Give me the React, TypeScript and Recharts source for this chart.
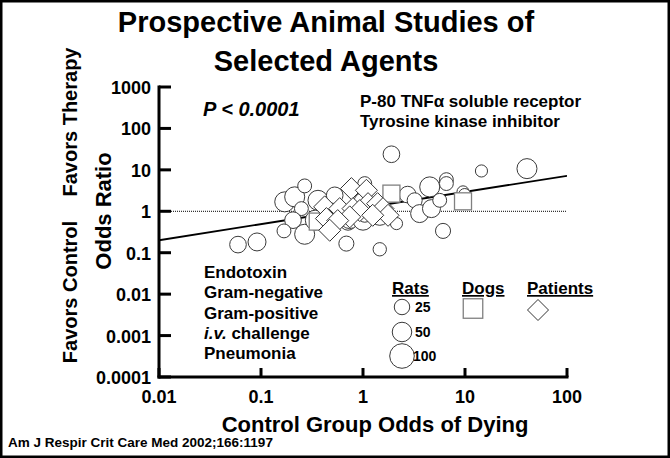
import React from 'react';
import { ScatterChart, Scatter, XAxis, YAxis } from 'recharts';

const FONT = '"Liberation Sans", Arial, Helvetica, sans-serif';

const xTicks = [0.01, 0.1, 1, 10, 100];
const xTickLabels = ['0.01', '0.1', '1', '10', '100'];
const yTicks = [0.0001, 0.001, 0.01, 0.1, 1, 10, 100, 1000];
const yTickLabels = ['0.0001', '0.001', '0.01', '0.1', '1', '10', '100', '1000'];

// Rat studies: x = control odds of dying, y = odds ratio, n = animals
const ratStudies = [
  { x: 0.0595, y: 0.157, n: 31 },
  { x: 0.0914, y: 0.182, n: 39 },
  { x: 0.171, y: 1.69, n: 54 },
  { x: 0.214, y: 2.23, n: 54 },
  { x: 0.268, y: 4.1, n: 18 },
  { x: 0.249, y: 1.16, n: 18 },
  { x: 0.206, y: 0.61, n: 31 },
  { x: 0.168, y: 0.336, n: 18 },
  { x: 0.268, y: 0.279, n: 54 },
  { x: 0.362, y: 1.84, n: 54 },
  { x: 0.341, y: 0.61, n: 54 },
  { x: 0.528, y: 2.43, n: 31 },
  { x: 0.713, y: 0.555, n: 31 },
  { x: 0.74, y: 0.667, n: 54 },
  { x: 0.687, y: 0.166, n: 23 },
  { x: 1.04, y: 4.66, n: 18 },
  { x: 1.0, y: 1.71, n: 39 },
  { x: 1.0, y: 0.61, n: 54 },
  { x: 1.04, y: 0.8, n: 18 },
  { x: 1.46, y: 1.16, n: 54 },
  { x: 1.46, y: 0.8, n: 54 },
  { x: 1.46, y: 0.121, n: 16 },
  { x: 1.9, y: 23.8, n: 31 },
  { x: 2.13, y: 0.505, n: 12 },
  { x: 2.74, y: 2.53, n: 31 },
  { x: 3.21, y: 1.84, n: 23 },
  { x: 3.59, y: 0.88, n: 39 },
  { x: 4.51, y: 3.88, n: 54 },
  { x: 4.69, y: 1.16, n: 39 },
  { x: 5.65, y: 1.84, n: 18 },
  { x: 6.09, y: 0.336, n: 23 },
  { x: 6.57, y: 5.8, n: 18 },
  { x: 6.57, y: 4.67, n: 18 },
  { x: 9.56, y: 2.94, n: 12 },
  { x: 9.93, y: 2.53, n: 12 },
  { x: 14.5, y: 9.4, n: 12 },
  { x: 40.5, y: 10.7, n: 54 },
];

const dogStudies = [
  { x: 0.36, y: 0.564 },
  { x: 1.9, y: 2.67 },
  { x: 9.56, y: 1.74 },
];

const patientStudies = [
  { x: 0.77, y: 3.53 },
  { x: 1.08, y: 3.21 },
  { x: 0.421, y: 1.28 },
  { x: 0.591, y: 1.16 },
  { x: 0.798, y: 1.16 },
  { x: 1.12, y: 1.53 },
  { x: 1.39, y: 1.53 },
  { x: 0.93, y: 1.04 },
  { x: 1.57, y: 1.16 },
  { x: 1.76, y: 0.8 },
  { x: 1.245, y: 0.8 },
  { x: 0.438, y: 0.667 },
  { x: 0.741, y: 0.733 },
  { x: 0.565, y: 0.596 },
  { x: 0.472, y: 0.348 },
];

const regressionLine = [
  { x: 0.01, y: 0.2 },
  { x: 100, y: 7.2 },
];
const noEffectLine = [
  { x: 0.01, y: 1 },
  { x: 100, y: 1 },
];

const titleLines = ['Prospective Animal Studies of', 'Selected Agents'];
const agentLabels = ['P-80 TNF\u03b1 soluble receptor', 'Tyrosine kinase inhibitor'];
const modelLabels = ['Endotoxin', 'Gram-negative', 'Gram-positive', 'i.v. challenge', 'Pneumonia'];
const ratLegendSizes = [25, 50, 100];
const speciesLabels = ['Rats', 'Dogs', 'Patients'];

const radiusFor = (n: number) => 2.65 * Math.cbrt(n);

const CircleShape = (props: any) => {
  const { cx, cy, payload } = props;
  if (cx == null || cy == null) return <g />;
  return <circle cx={cx} cy={cy} r={radiusFor(payload.n)} fill="#fff" stroke="#3a3a3a" strokeWidth={1} />;
};

const squarePath = (cx: number, cy: number, s: number) => (
  <rect x={cx - s / 2} y={cy - s / 2} width={s} height={s} fill="#fff" stroke="#808080" strokeWidth={1.3} />
);
const SquareShape = (props: any) => {
  const { cx, cy } = props;
  if (cx == null || cy == null) return <g />;
  return squarePath(cx, cy, 17);
};

const diamondPath = (cx: number, cy: number, h: number) => (
  <polygon
    points={`${cx},${cy - h} ${cx + h},${cy} ${cx},${cy + h} ${cx - h},${cy}`}
    fill="#fff"
    stroke="#333"
    strokeWidth={1}
  />
);
const DiamondShape = (props: any) => {
  const { cx, cy } = props;
  if (cx == null || cy == null) return <g />;
  return diamondPath(cx, cy, 11);
};

const NoShape = () => <g />;

const XTick = (props: any) => {
  const { x, y, index } = props;
  return (
    <g>
      <line x1={x} x2={x} y1={y} y2={y - 9} stroke="#000" strokeWidth={3} />
      <text x={x} y={y + 26} textAnchor="middle" fontSize={18} fontWeight="bold" fill="#000" fontFamily={FONT}>
        {xTickLabels[index]}
      </text>
    </g>
  );
};

const YTick = (props: any) => {
  const { x, y, index } = props;
  return (
    <g>
      <line x1={x} x2={x + 12} y1={y} y2={y} stroke="#000" strokeWidth={3} />
      <text x={x - 8} y={y + 7} textAnchor="end" fontSize={18} fontWeight="bold" fill="#000" fontFamily={FONT}>
        {yTickLabels[index]}
      </text>
    </g>
  );
};

export default function App() {
  const txt = { fontFamily: FONT, fontWeight: 'bold' as const, fill: '#000' };
  return (
    <div style={{ position: 'absolute', left: 0, top: 0, width: 670, height: 458, background: '#fff' }}>
      <ScatterChart width={670} height={458} margin={{ top: 87, right: 103, bottom: 51, left: 99 }}>
        <XAxis
          type="number"
          dataKey="x"
          scale="log"
          domain={[0.01, 100]}
          allowDataOverflow
          ticks={xTicks}
          interval={0}
          height={30}
          tickLine={false}
          tickSize={0}
          tickMargin={0}
          tick={<XTick />}
          axisLine={{ stroke: '#000', strokeWidth: 3, strokeLinecap: 'square' }}
        />
        <YAxis
          type="number"
          dataKey="y"
          scale="log"
          domain={[0.0001, 1000]}
          allowDataOverflow
          ticks={yTicks}
          interval={0}
          width={60}
          tickLine={false}
          tickSize={0}
          tickMargin={0}
          tick={<YTick />}
          axisLine={{ stroke: '#000', strokeWidth: 3, strokeLinecap: 'square' }}
        />
        <Scatter
          data={noEffectLine}
          line={{ stroke: '#000', strokeWidth: 1, strokeDasharray: '1 1' }}
          shape={<NoShape />}
          isAnimationActive={false}
        />
        <Scatter
          data={regressionLine}
          line={{ stroke: '#000', strokeWidth: 1.8 }}
          shape={<NoShape />}
          isAnimationActive={false}
        />
        <Scatter data={ratStudies} shape={<CircleShape />} isAnimationActive={false} />
        <Scatter data={dogStudies} shape={<SquareShape />} isAnimationActive={false} />
        <Scatter data={patientStudies} shape={<DiamondShape />} isAnimationActive={false} />
      </ScatterChart>
      <svg width={670} height={458} style={{ position: 'absolute', left: 0, top: 0, pointerEvents: 'none' }}>
        <rect x={1.25} y={1.25} width={667.5} height={455.5} fill="none" stroke="#000" strokeWidth={2.5} />
        <text x={326} y={32} textAnchor="middle" fontSize={29} {...txt}>{titleLines[0]}</text>
        <text x={326} y={71} textAnchor="middle" fontSize={29} {...txt}>{titleLines[1]}</text>

        <text transform="translate(111,211) rotate(-90)" textAnchor="middle" fontSize={22} {...txt}>Odds Ratio</text>
        <text transform="translate(77,292) rotate(-90)" textAnchor="middle" fontSize={20} {...txt}>Favors Control</text>
        <text transform="translate(77,122) rotate(-90)" textAnchor="middle" fontSize={20} {...txt}>Favors Therapy</text>

        <text x={375} y={432} textAnchor="middle" fontSize={22} {...txt}>Control Group Odds of Dying</text>
        <text x={8} y={447} fontSize={13.5} {...txt}>Am J Respir Crit Care Med 2002;166:1197</text>

        <text x={203} y={116} fontSize={20} fontStyle="italic" {...txt}>P &lt; 0.0001</text>
        <text x={360} y={107} fontSize={17} {...txt}>{agentLabels[0]}</text>
        <text x={360} y={127} fontSize={17} {...txt}>{agentLabels[1]}</text>

        {modelLabels.map((m, i) => (
          <text key={m} x={204} y={278 + i * 20.3} fontSize={17} {...txt}>
            {m.startsWith('i.v.') ? (
              <>
                <tspan fontStyle="italic">i.v.</tspan>
                {m.slice(4)}
              </>
            ) : (
              m
            )}
          </text>
        ))}

        <text x={392} y={294} fontSize={17} {...txt} style={{ textDecoration: 'underline' }}>{speciesLabels[0]}</text>
        <text x={462} y={294} fontSize={17} {...txt} style={{ textDecoration: 'underline' }}>{speciesLabels[1]}</text>
        <text x={527} y={294} fontSize={17} {...txt} style={{ textDecoration: 'underline' }}>{speciesLabels[2]}</text>

        {ratLegendSizes.map((n, i) => {
          const cy = [307, 332, 356][i];
          return (
            <g key={n}>
              <circle cx={402} cy={cy} r={radiusFor(n)} fill="#fff" stroke="#3a3a3a" strokeWidth={1} />
              <text x={413 + (i < 2 ? 2 : 0)} y={cy + 5} fontSize={14} {...txt}>{n}</text>
            </g>
          );
        })}
        {squarePath(473, 308.5, 19.5)}
        {diamondPath(538, 310, 10.5)}
      </svg>
    </div>
  );
}
